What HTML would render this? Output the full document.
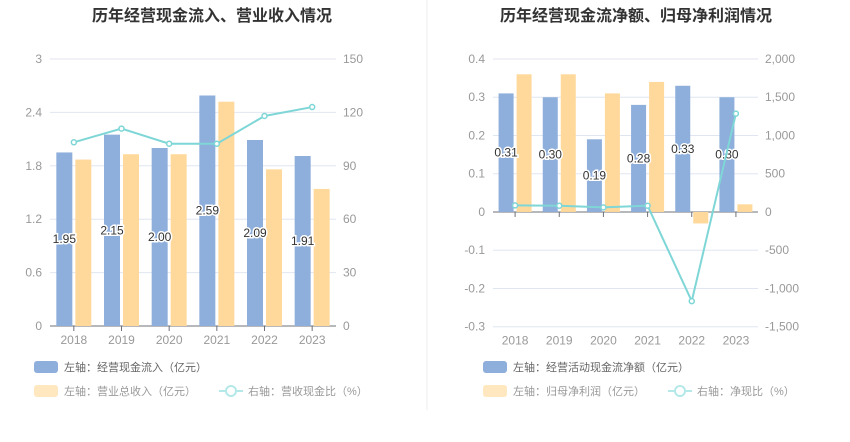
<!DOCTYPE html>
<html><head><meta charset="utf-8"><style>
body{margin:0;background:#fff;font-family:"Liberation Sans","Noto Sans CJK SC",sans-serif;}
svg text{font-family:"Liberation Sans","Noto Sans CJK SC",sans-serif;}
</style></head><body>
<svg id="c" width="850" height="437" xmlns="http://www.w3.org/2000/svg">
<line x1="427" y1="0" x2="427" y2="410" stroke="#eeeeee"/>
<text x="212" y="21" text-anchor="middle" font-size="16" font-weight="bold" fill="#333">历年经营现金流入、营业收入情况</text>
<text x="636" y="21" text-anchor="middle" font-size="16" font-weight="bold" fill="#333">历年经营现金流净额、归母净利润情况</text>
<g id="L"></g><g id="R"></g>
<rect x="34" y="361" width="24" height="12" rx="3" fill="#8eaedb"/>
<text x="64" y="371" font-size="11" fill="#666">左轴：经营现金流入（亿元）</text>
<rect x="34" y="385" width="24" height="12" rx="3" fill="#ffe7c0"/>
<text x="64" y="395" font-size="11" fill="#999">左轴：营业总收入（亿元）</text>
<line x1="219" y1="391" x2="243" y2="391" stroke="#b5e8e8" stroke-width="2"/>
<circle cx="231" cy="391" r="5" fill="#fff" stroke="#b5e8e8" stroke-width="2"/>
<text x="248" y="395" font-size="11" fill="#999">右轴：营收现金比（%）</text>
<rect x="483" y="361" width="24" height="12" rx="3" fill="#8eaedb"/>
<text x="513" y="371" font-size="11" fill="#666">左轴：经营活动现金流净额（亿元）</text>
<rect x="483" y="385" width="24" height="12" rx="3" fill="#ffe7c0"/>
<text x="513" y="395" font-size="11" fill="#999">左轴：归母净利润（亿元）</text>
<line x1="668" y1="391" x2="692" y2="391" stroke="#b5e8e8" stroke-width="2"/>
<circle cx="680" cy="391" r="5" fill="#fff" stroke="#b5e8e8" stroke-width="2"/>
<text x="697" y="395" font-size="11" fill="#999">右轴：净现比（%）</text>
</svg>
<script>
const years=["2018","2019","2020","2021","2022","2023"];
const cashInflow=[1.95,2.15,2.00,2.59,2.09,1.91];
const revenue=[1.87,1.93,1.93,2.52,1.76,1.54];
const cashRatio=[103.2,110.9,102.4,102.4,118,123];
const leftTicksL=[0,0.6,1.2,1.8,2.4,3];
const rightTicksL=[0,30,60,90,120,150];
const netCash=[0.31,0.30,0.19,0.28,0.33,0.30];
const netProfit=[0.36,0.36,0.31,0.34,-0.03,0.02];
const netRatio=[86,82,60,82,-1166,1286];
const leftTicksR=[-0.3,-0.2,-0.1,0,0.1,0.2,0.3,0.4];
const rightTicksR=["-1,500","-1,000","-500","0","500","1,000","1,500","2,000"];
const rightValsR=[-1500,-1000,-500,0,500,1000,1500,2000];
const NS="http://www.w3.org/2000/svg";
function mk(p,t,a){const e=document.createElementNS(NS,t);for(const k in a)e.setAttribute(k,a[k]);p.appendChild(e);return e;}
function draw(g,o){
  const x0=o.x0,x1=o.x1,bw=(x1-x0)/years.length;
  const yL=v=>o.yb+(v-o.lmin)/(o.lmax-o.lmin)*(o.yt-o.yb);
  const yR=v=>o.yb+(v-o.rmin)/(o.rmax-o.rmin)*(o.yt-o.yb);
  o.lt.forEach((t,i)=>{const y=yL(t);
    const l=mk(g,'line',{x1:x0,x2:x1,y1:y,y2:y,stroke:'#e0e6f1'});
    
    const a=mk(g,'text',{x:x0-8,y:y+4,'text-anchor':'end','font-size':12,fill:'#999'});a.textContent=t;
    
    const b=mk(g,'text',{x:x1+7,y:yR(o.rv[i])+4,'font-size':12,fill:'#999'});b.textContent=o.rt[i];
    });
  const y0=yL(0);
  const ax=mk(g,'line',{x1:x0,x2:x1,y1:y0,y2:y0,stroke:'#6e7079'});
  
  years.forEach((yr,i)=>{const c=x0+bw*(i+0.5);
    mk(g,'line',{x1:c,x2:c,y1:y0,y2:y0+5,stroke:'#6e7079'});
    const t=mk(g,'text',{x:c,y:o.yb+18,'text-anchor':'middle','font-size':12,fill:'#999'});t.textContent=yr;
    
    [[o.a,-o.off,'#8eaedb','bar-a'],[o.b,o.off,'#ffd99b','bar-b']].forEach(([arr,d,col,nm])=>{
      const v=arr[i],ya=yL(v),top=Math.min(ya,y0),h=Math.abs(ya-y0);
      const r=mk(g,'rect',{x:c+d-o.w/2,y:top,width:o.w,height:h,fill:col});
      });
  });
  years.forEach((yr,i)=>{const c=x0+bw*(i+0.5),v=o.a[i];
    const t=mk(g,'text',{x:c-o.off,y:(yL(v)+y0)/2+4,'text-anchor':'middle','font-size':12,fill:'#333',stroke:'#fff','stroke-width':3,'paint-order':'stroke'});
    t.textContent=v.toFixed(2);});
  const pts=o.line.map((v,i)=>[x0+bw*(i+0.5),yR(v)]);
  const pl=mk(g,'polyline',{points:pts.map(p=>p.join(',')).join(' '),fill:'none',stroke:'#7fd6d6','stroke-width':2});
  
  pts.forEach(p=>{const c=mk(g,'circle',{cx:p[0],cy:p[1],r:2.5,fill:'#fff',stroke:'#7fd6d6','stroke-width':1.5});
    });
}
draw(document.getElementById('L'),{x0:50,x1:336,yt:59,yb:326,lmin:0,lmax:3,rmin:0,rmax:150,lt:leftTicksL,rt:rightTicksL,rv:rightTicksL,a:cashInflow,b:revenue,line:cashRatio,off:9.5,w:16});
draw(document.getElementById('R'),{x0:493,x1:758,yt:59,yb:326.7,lmin:-0.3,lmax:0.4,rmin:-1500,rmax:2000,lt:leftTicksR,rt:rightTicksR,rv:rightValsR,a:netCash,b:netProfit,line:netRatio,off:9,w:15});
</script>
</body></html>
